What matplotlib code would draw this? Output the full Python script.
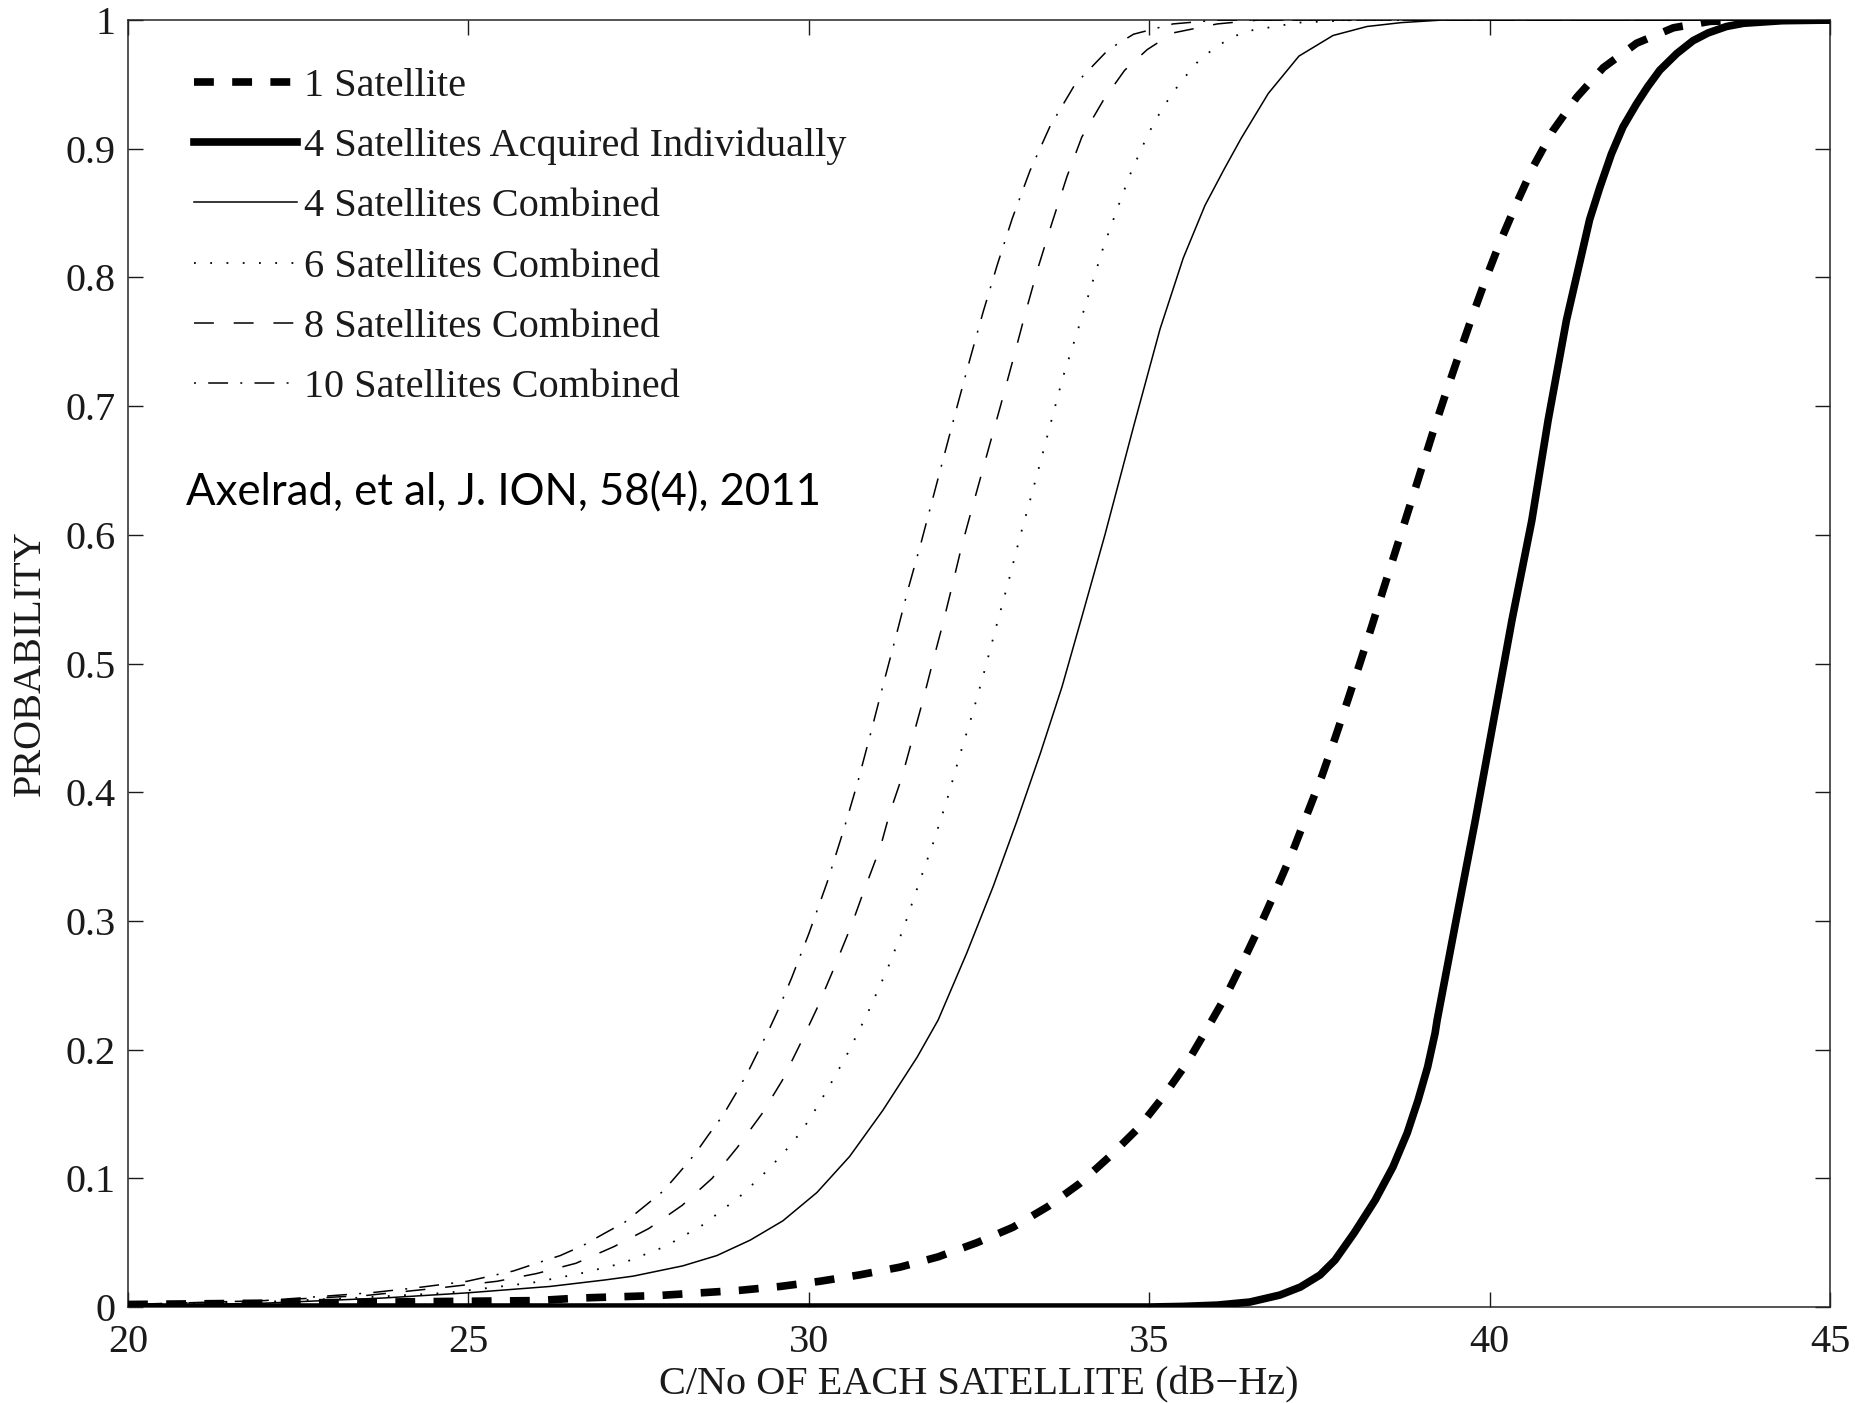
import matplotlib
matplotlib.use("Agg")
import matplotlib.pyplot as plt

plt.rcParams['font.family'] = ['Liberation Serif', 'DejaVu Serif']
plt.rcParams['text.color'] = '#1a1a1a'
plt.rcParams['axes.labelcolor'] = '#1a1a1a'
plt.rcParams['xtick.color'] = '#1a1a1a'
plt.rcParams['ytick.color'] = '#1a1a1a'

# values (C/No in dB-Hz vs probability)
sat1_x = [20, 22, 24, 26, 26.64, 27.23, 27.81, 28.40, 28.99, 29.58, 30.16, 30.75, 31.34,
          31.90, 32.47, 33.0, 33.51, 33.98, 34.42, 34.84, 35.20, 35.56, 35.87, 36.14,
          36.41, 36.66, 36.88, 37.10, 37.32, 37.54, 37.73, 37.92, 38.10, 38.27, 38.43,
          38.64, 38.79, 38.98, 39.17, 39.37, 39.57, 39.76, 39.96, 40.15, 40.40, 40.64,
          40.93, 41.28, 41.67, 42.16, 42.70, 43.24, 44.0, 45]
sat1_y = [0.002, 0.003, 0.004, 0.005, 0.007, 0.008, 0.009, 0.011, 0.013, 0.016, 0.020,
          0.025, 0.031, 0.039, 0.050, 0.062, 0.078, 0.096, 0.117, 0.139, 0.163, 0.190,
          0.218, 0.243, 0.272, 0.300, 0.326, 0.353, 0.383, 0.413, 0.442, 0.472, 0.501,
          0.529, 0.556, 0.591, 0.616, 0.648, 0.680, 0.712, 0.743, 0.772, 0.801, 0.827,
          0.858, 0.886, 0.914, 0.940, 0.963, 0.982, 0.994, 0.999, 1.0, 1.0]

ind4_x = [20, 35.0, 35.5, 36.0, 36.48, 36.92, 37.22, 37.51, 37.73, 38.01, 38.32, 38.58,
          38.79, 38.95, 39.09, 39.20, 39.23, 39.51, 39.79, 40.06, 40.33, 40.62, 40.86,
          41.13, 41.47, 41.62, 41.79, 41.96, 42.16, 42.32, 42.50, 42.75, 42.99, 43.21,
          43.48, 43.73, 44.3, 45]
ind4_y = [0, 0, 0.0005, 0.0015, 0.0039, 0.0093, 0.0155, 0.0249, 0.0365, 0.0575, 0.0831,
          0.1088, 0.1352, 0.1608, 0.1865, 0.2129, 0.223, 0.301, 0.378, 0.456, 0.534,
          0.611, 0.689, 0.767, 0.845, 0.870, 0.896, 0.917, 0.935, 0.948, 0.961, 0.974,
          0.984, 0.990, 0.995, 0.9975, 0.9995, 1.0]

comb4_x = [20, 22, 23.75, 24.98, 26.2, 27.0, 27.42, 28.15, 28.65, 29.14, 29.62, 30.12,
           30.60, 31.09, 31.59, 31.90, 32.32, 32.71, 33.06, 33.40, 33.72, 34.01, 34.35,
           34.77, 35.16, 35.5, 35.82, 36.1, 36.35, 36.75, 37.2, 37.7, 38.2, 38.7, 39.3, 45]
comb4_y = [0.001, 0.003, 0.007, 0.011, 0.016, 0.021, 0.024, 0.032, 0.040, 0.052, 0.067,
           0.089, 0.117, 0.153, 0.194, 0.223, 0.275, 0.327, 0.378, 0.430, 0.482, 0.536,
           0.600, 0.684, 0.760, 0.815, 0.856, 0.884, 0.908, 0.943, 0.972, 0.988, 0.995,
           0.998, 1.0, 1.0]

comb6_x = [20, 22, 23.3, 24.68, 25.32, 25.95, 26.64, 27.26, 27.89, 28.45, 28.99, 29.33,
           29.62, 29.90, 30.14, 30.36, 30.58, 30.87, 31.15, 31.39, 31.61, 31.83, 32.03,
           32.22, 32.41, 32.59, 32.76, 32.93, 33.10, 33.22, 33.40, 33.51, 33.73, 33.94,
           34.13, 34.33, 34.55, 34.72, 34.98, 35.20, 35.45, 35.72, 36.0, 36.39, 37.19,
           38.0, 45]
comb6_y = [0.002, 0.004, 0.007, 0.011, 0.015, 0.019, 0.026, 0.034, 0.047, 0.064, 0.086,
           0.103, 0.119, 0.137, 0.157, 0.177, 0.198, 0.229, 0.262, 0.294, 0.328, 0.361,
           0.394, 0.429, 0.462, 0.496, 0.530, 0.563, 0.598, 0.621, 0.656, 0.678, 0.722,
           0.757, 0.790, 0.824, 0.856, 0.880, 0.911, 0.932, 0.951, 0.968, 0.980, 0.991,
           0.998, 1.0, 1.0]

comb8_x = [20, 22, 23.5, 24.6, 25.42, 26.0, 26.58, 27.14, 27.65, 28.14, 28.58, 28.95,
           29.31, 29.61, 29.88, 30.12, 30.36, 30.63, 30.80, 31.05, 31.19, 31.37, 31.53,
           31.68, 31.83, 31.97, 32.10, 32.25, 32.40, 32.62, 32.81, 33.00, 33.18, 33.37,
           33.57, 33.79, 34.01, 34.33, 34.64, 34.97, 35.35, 36.0, 36.6, 45]
comb8_y = [0.002, 0.005, 0.009, 0.015, 0.020, 0.026, 0.034, 0.047, 0.061, 0.079, 0.100,
           0.124, 0.150, 0.176, 0.205, 0.232, 0.262, 0.297, 0.322, 0.357, 0.384, 0.412,
           0.443, 0.472, 0.503, 0.531, 0.559, 0.592, 0.621, 0.663, 0.699, 0.736, 0.772,
           0.808, 0.842, 0.878, 0.909, 0.938, 0.961, 0.977, 0.990, 0.997, 1.0, 1.0]

comb10_x = [20, 22, 23.55, 24.24, 24.98, 25.66, 26.0, 26.35, 26.69, 26.99, 27.30, 27.58,
            27.86, 28.09, 28.33, 28.53, 28.74, 28.93, 29.11, 29.25, 29.42, 29.56, 29.75,
            30.0, 30.27, 30.52, 30.72, 30.91, 31.09, 31.28, 31.46, 31.65, 31.83, 32.0,
            32.18, 32.37, 32.56, 32.77, 32.99, 33.25, 33.54, 33.91, 34.40, 34.77, 35.35,
            36.0, 45]
comb10_y = [0.002, 0.005, 0.011, 0.015, 0.020, 0.028, 0.034, 0.040, 0.048, 0.057, 0.066,
            0.078, 0.090, 0.104, 0.119, 0.134, 0.149, 0.166, 0.183, 0.198, 0.216, 0.232,
            0.256, 0.290, 0.330, 0.372, 0.408, 0.446, 0.483, 0.521, 0.558, 0.594, 0.630,
            0.664, 0.700, 0.737, 0.773, 0.810, 0.846, 0.883, 0.917, 0.950, 0.977, 0.989,
            0.997, 1.0, 1.0]

x_ticks = [20, 25, 30, 35, 40, 45]
y_ticks = [0, 0.1, 0.2, 0.3, 0.4, 0.5, 0.6, 0.7, 0.8, 0.9, 1]
y_tick_labels = ['0', '0.1', '0.2', '0.3', '0.4', '0.5', '0.6', '0.7', '0.8', '0.9', '1']

FS = 29
fig = plt.figure(figsize=(18.55, 14.03), dpi=100)
ax = fig.add_axes([0.0690, 0.0684, 0.9175, 0.9173])

ax.plot(sat1_x, sat1_y, color='black', lw=5.5, ls=(0, (2.6, 2.4)), label='1 Satellite', zorder=5)
ax.plot(ind4_x, ind4_y, color='black', lw=5.5, label='4 Satellites Acquired Individually', zorder=5)
ax.plot(comb4_x, comb4_y, color='black', lw=1.1, label='4 Satellites Combined', zorder=4)
ax.plot(comb6_x, comb6_y, color='black', lw=1.3, ls=(0, (1, 8)), label='6 Satellites Combined', zorder=4)
ax.plot(comb8_x, comb8_y, color='black', lw=1.1, ls=(0, (13, 13)), label='8 Satellites Combined', zorder=4)
ax.plot(comb10_x, comb10_y, color='black', lw=1.1, ls=(21, (13, 8, 1.3, 8)),
        label='10 Satellites Combined', zorder=4)

ax.set_xlim(20, 45)
ax.set_ylim(0, 1)
ax.set_xticks(x_ticks)
ax.set_xticklabels([str(t) for t in x_ticks])
ax.set_yticks(y_ticks)
ax.set_yticklabels(y_tick_labels)
ax.tick_params(axis='both', direction='in', length=11, width=1.0, top=True, right=True,
               labelsize=FS)
ax.tick_params(axis='x', pad=12)
ax.tick_params(axis='y', pad=9)
for s in ax.spines.values():
    s.set_linewidth(1.1)
    s.set_color('#262626')

ax.set_xlabel('C/No OF EACH SATELLITE (dB\u2212Hz)', fontsize=FS, labelpad=4)
ax.set_ylabel('PROBABILITY', fontsize=FS, labelpad=12)

ax.legend(loc='upper left', bbox_to_anchor=(0.0388, 0.963), frameon=False, fontsize=FS,
          handlelength=2.55, handletextpad=0.18, labelspacing=0.57, borderpad=0,
          borderaxespad=0)

ax.text(20.85, 0.633, 'Axelrad, et al, J. ION, 58(4), 2011', fontsize=31.5,
        family=['Lato', 'DejaVu Sans'], color='black', va='center', ha='left')

fig.savefig('out.png', dpi=100)
